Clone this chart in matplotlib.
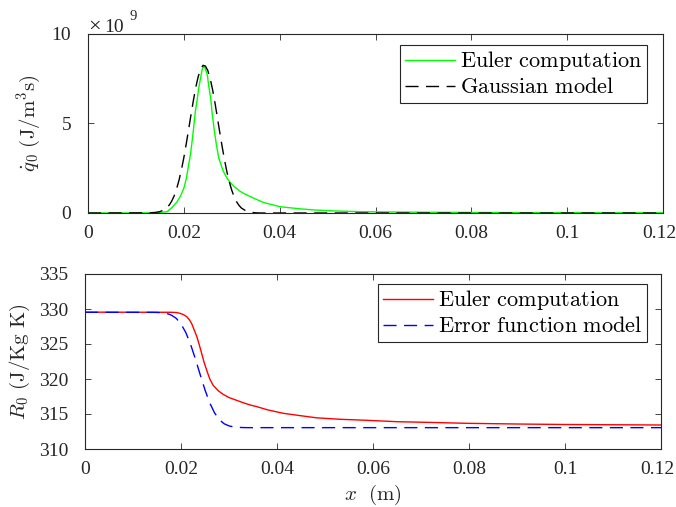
import matplotlib
matplotlib.use("Agg")
import matplotlib.pyplot as plt
from matplotlib.transforms import ScaledTranslation

plt.rcParams['mathtext.fontset'] = 'cm'
plt.rcParams['font.family'] = ['Liberation Serif', 'DejaVu Serif']

# ---- top panel data (heat release, units of 1e9 J/m^3 s) ----
x_q_euler = [0.0, 0.010, 0.014, 0.015, 0.0165, 0.0175, 0.0186, 0.0193, 0.0200, 0.0205,
             0.0210, 0.0214, 0.0218, 0.0221, 0.0224, 0.0228, 0.0231, 0.0235, 0.0238,
             0.0242, 0.0245, 0.0249, 0.0252, 0.0256, 0.0259, 0.0263, 0.0268, 0.0273,
             0.0282, 0.0290, 0.0297, 0.0305, 0.0318, 0.0332, 0.0350, 0.0367, 0.0401,
             0.0440, 0.0471, 0.0520, 0.0575, 0.0714, 0.0900, 0.1200]
q_euler = [0.0, 0.0, 0.01, 0.03, 0.07, 0.30, 0.63, 0.95, 1.38, 1.90,
           2.68, 3.30, 4.17, 4.90, 5.66, 6.35, 6.97, 7.55, 7.99,
           8.23, 8.05, 7.71, 7.10, 6.41, 5.60, 4.73, 3.80, 3.06,
           2.35, 1.95, 1.70, 1.48, 1.20, 1.00, 0.78, 0.58, 0.35,
           0.24, 0.17, 0.11, 0.07, 0.04, 0.02, 0.01]

x_q_gauss = [0.0, 0.013, 0.014, 0.015, 0.016, 0.0165, 0.017, 0.0175, 0.018, 0.0185,
             0.019, 0.0195, 0.020, 0.0205, 0.021, 0.0215, 0.022, 0.0225, 0.023,
             0.0235, 0.024, 0.0245, 0.025, 0.0255, 0.026, 0.0265, 0.027, 0.0275,
             0.028, 0.0285, 0.029, 0.0295, 0.030, 0.0305, 0.031, 0.0315, 0.032,
             0.033, 0.034, 0.035, 0.036, 0.120]
q_gauss = [0.0, 0.01, 0.03, 0.075, 0.20, 0.31, 0.46, 0.68, 0.97, 1.36,
           1.84, 2.42, 3.09, 3.86, 4.67, 5.50, 6.30, 7.03, 7.62,
           8.03, 8.25, 8.21, 7.96, 7.51, 6.89, 6.15, 5.34, 4.50,
           3.70, 2.95, 2.29, 1.73, 1.27, 0.91, 0.63, 0.43, 0.28,
           0.11, 0.04, 0.01, 0.0, 0.0]

# ---- bottom panel data (gas constant, J/Kg K) ----
x_R_euler = [0.0, 0.018, 0.019, 0.0198, 0.0205, 0.0212, 0.0217, 0.0222, 0.0227,
             0.0233, 0.0238, 0.0243, 0.0248, 0.0254, 0.0260, 0.0267, 0.0278,
             0.0288, 0.0300, 0.0316, 0.0330, 0.0344, 0.0358, 0.0380, 0.0413,
             0.0450, 0.0483, 0.0530, 0.0587, 0.0650, 0.0719, 0.0795, 0.0900,
             0.1000, 0.1200]
R_euler = [329.55, 329.53, 329.50, 329.38, 329.20, 328.90, 328.50, 327.95, 327.10,
           326.05, 324.90, 323.67, 322.40, 321.15, 320.00, 319.10, 318.30,
           317.80, 317.35, 316.95, 316.60, 316.29, 316.05, 315.60, 315.10,
           314.75, 314.45, 314.25, 314.10, 313.90, 313.80, 313.67, 313.57,
           313.50, 313.43]

x_R_erf = [0.0, 0.014, 0.015, 0.016, 0.017, 0.018, 0.019, 0.020, 0.021, 0.022,
           0.023, 0.024, 0.025, 0.026, 0.027, 0.028, 0.029, 0.030, 0.031,
           0.032, 0.033, 0.034, 0.120]
R_erf = [329.53, 329.52, 329.51, 329.46, 329.37, 329.12, 328.67, 327.86, 326.64, 324.94,
         322.86, 320.61, 318.44, 316.57, 315.15, 314.18, 313.60, 313.30, 313.15,
         313.09, 313.06, 313.05, 313.05]

x_ticks = [0, 0.02, 0.04, 0.06, 0.08, 0.1, 0.12]
x_ticklabels = ['0', '0.02', '0.04', '0.06', '0.08', '0.1', '0.12']
q_ticks = [0, 5, 10]
R_ticks = [310, 315, 320, 325, 330, 335]

axcol = '#262626'
W, H = 676, 507
fig = plt.figure(figsize=(W / 100, H / 100), dpi=100)
fig.patch.set_facecolor('white')

def px_axes(l, t, r, b):
    return fig.add_axes([l / W, 1 - b / H, (r - l) / W, (b - t) / H])

ax1 = px_axes(88, 34, 663, 213)
ax2 = px_axes(85, 274, 661, 449)

dash = (9.4, 5.4)
l1, = ax1.plot(x_q_euler, q_euler, color='#00FF00', lw=1.0)
l2, = ax1.plot(x_q_gauss, q_gauss, color='black', lw=1.0, dashes=dash)
l3, = ax2.plot(x_R_euler, R_euler, color='#FF0000', lw=1.0)
l4, = ax2.plot(x_R_erf, R_erf, color='#0000FF', lw=1.0, dashes=dash)

ax1.set_ylim(0, 10)
ax1.set_yticks(q_ticks)
ax2.set_ylim(310, 335)
ax2.set_yticks(R_ticks)

for ax in (ax1, ax2):
    ax.set_xlim(0, 0.12)
    ax.set_xticks(x_ticks)
    ax.set_xticklabels(x_ticklabels)
    ax.tick_params(direction='in', top=True, right=True, length=4.5, width=0.6,
                   colors=axcol, labelsize=14)
    ax.tick_params(axis='x', pad=8.5)
    ax.tick_params(axis='y', pad=12)
    for s in ax.spines.values():
        s.set_color(axcol)
        s.set_linewidth(0.8)

ax1.set_ylabel(r'$\dot{q}_0\ (\mathrm{J/m^3s})$', fontsize=15, color=axcol)
ax2.set_ylabel(r'$R_0\ (\mathrm{J/Kg\ K})$', fontsize=15, color=axcol)
ax2.set_xlabel(r'$x\ \ (\mathrm{m})$', fontsize=15, color=axcol, labelpad=4)
ax1.yaxis.set_label_coords((43 - 88) / 575, 0.5)
ax2.yaxis.set_label_coords((32 - 85) / 576, 0.5)

leg_kw = dict(frameon=True, fancybox=False, edgecolor=axcol, framealpha=1,
              prop={'size': 16}, handlelength=2.25, handletextpad=0.25,
              borderpad=0.2, labelspacing=0.2, borderaxespad=0.0,
              loc='upper right', bbox_transform=fig.transFigure)
lg1 = ax1.legend([l1, l2], [r'$\mathrm{Euler\ computation}$', r'$\mathrm{Gaussian\ model}$'],
                 bbox_to_anchor=(647 / W, 1 - 45 / H), **leg_kw)
lg2 = ax2.legend([l3, l4], [r'$\mathrm{Euler\ computation}$', r'$\mathrm{Error\ function\ model}$'],
                 bbox_to_anchor=(647 / W, 1 - 284 / H), **leg_kw)
for lg in (lg1, lg2):
    lg.get_frame().set_linewidth(0.8)

# keep the last x tick label inside the figure
for ax in (ax1, ax2):
    lab = ax.get_xticklabels()[-1]
    lab.set_transform(lab.get_transform() + ScaledTranslation(-4 / 100, 0, fig.dpi_scale_trans))

# exponent label above the top axes
fig.text(88 / W, 1 - 32 / H, '\u00d7', fontsize=16, color=axcol, ha='left', va='baseline')
fig.text(104 / W, 1 - 32 / H, '10', fontsize=14, color=axcol, ha='left', va='baseline')
fig.text(130 / W, 1 - 20 / H, '9', fontsize=10.5, color=axcol, ha='left', va='baseline')

fig.savefig('out.png', dpi=100, facecolor='white')
